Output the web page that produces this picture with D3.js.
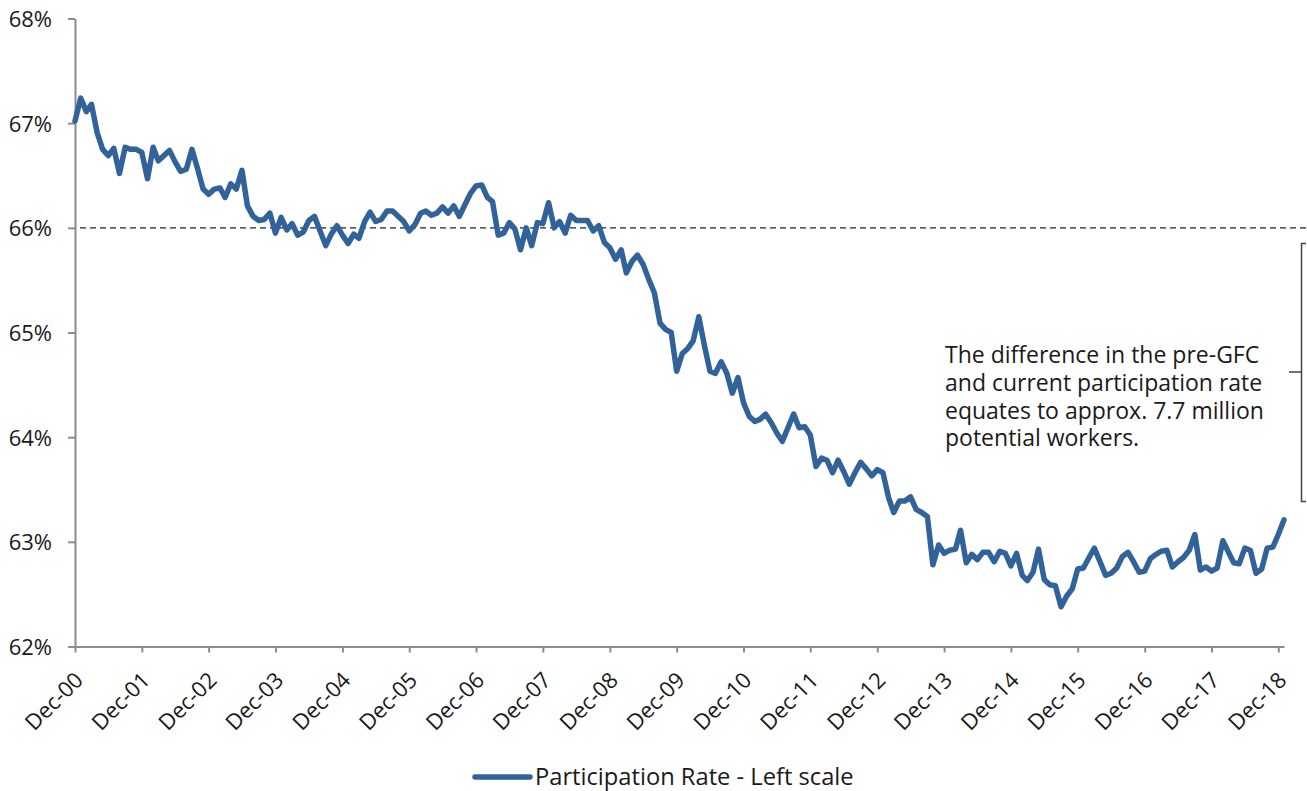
<!DOCTYPE html>
<html>
<head>
<meta charset="utf-8">
<script src="https://cdn.jsdelivr.net/npm/d3@7"></script>
<style>
  body { margin: 0; background: #fff; }
  svg { display: block; }
</style>
</head>
<body>
<script>
// monthly participation rate, Dec-00 .. Jan-19
var startMonth = new Date(2000, 11, 1);
var rates = [
  67.02, 67.24, 67.11, 67.18, 66.91, 66.75, 66.69, 66.76, 66.52, 66.77, 66.75, 66.75,
  66.72, 66.47, 66.77, 66.64, 66.69, 66.74, 66.63, 66.54, 66.56, 66.75, 66.57, 66.37,
  66.32, 66.37, 66.38, 66.29, 66.42, 66.37, 66.55, 66.21, 66.11, 66.07, 66.08, 66.14,
  65.95, 66.10, 65.98, 66.04, 65.93, 65.96, 66.07, 66.11, 65.97, 65.83, 65.94, 66.02,
  65.93, 65.85, 65.94, 65.90, 66.06, 66.15, 66.06, 66.08, 66.16, 66.16, 66.11, 66.06,
  65.97, 66.03, 66.14, 66.16, 66.12, 66.14, 66.20, 66.14, 66.21, 66.11, 66.22, 66.33,
  66.40, 66.41, 66.29, 66.25, 65.93, 65.95, 66.05, 65.99, 65.79, 66.00, 65.83, 66.05,
  66.04, 66.24, 66.00, 66.06, 65.95, 66.12, 66.07, 66.07, 66.07, 65.97, 66.02, 65.86,
  65.81, 65.70, 65.79, 65.57, 65.68, 65.74, 65.65, 65.51, 65.38, 65.09, 65.03, 65.00,
  64.63, 64.80, 64.85, 64.92, 65.15, 64.88, 64.63, 64.61, 64.72, 64.61, 64.42, 64.57,
  64.33, 64.20, 64.15, 64.17, 64.22, 64.14, 64.04, 63.96, 64.09, 64.22, 64.09, 64.10,
  64.02, 63.72, 63.80, 63.78, 63.66, 63.78, 63.67, 63.55, 63.66, 63.76, 63.70, 63.63,
  63.69, 63.66, 63.42, 63.28, 63.39, 63.39, 63.43, 63.31, 63.28, 63.24, 62.78, 62.97,
  62.89, 62.92, 62.93, 63.11, 62.80, 62.88, 62.83, 62.90, 62.90, 62.81, 62.91, 62.89,
  62.77, 62.89, 62.68, 62.63, 62.71, 62.93, 62.64, 62.59, 62.58, 62.38, 62.48, 62.55,
  62.74, 62.75, 62.85, 62.94, 62.81, 62.68, 62.70, 62.75, 62.86, 62.90, 62.81, 62.71,
  62.72, 62.84, 62.88, 62.91, 62.92, 62.76, 62.81, 62.85, 62.92, 63.07, 62.73, 62.76,
  62.72, 62.75, 63.01, 62.91, 62.80, 62.79, 62.94, 62.92, 62.70, 62.74, 62.94, 62.95,
  63.07, 63.21
];
var yTicks = [62, 63, 64, 65, 66, 67, 68];
var xTickYears = [2000, 2001, 2002, 2003, 2004, 2005, 2006, 2007, 2008, 2009,
                  2010, 2011, 2012, 2013, 2014, 2015, 2016, 2017, 2018];
var preGfcLevel = 66;
var seriesName = 'Participation Rate - Left scale';
var noteLines = [
  'The difference in the pre-GFC',
  'and current participation rate',
  'equates to approx. 7.7 million',
  'potential workers.'
];

var dataset = rates.map(function (v, i) {
  return { date: d3.timeMonth.offset(startMonth, i), value: v };
});

var svgWidth = 1307, svgHeight = 791;
var lineColor = '#31639a';
var axisColor = '#8c8c8c';
var tickFont = '"Open Sans", sans-serif';

var svg = d3.select('body')
  .append('svg')
  .attr('width', svgWidth)
  .attr('height', svgHeight);

// scales
var xScale = d3.scaleTime()
  .domain([dataset[0].date, dataset[dataset.length - 1].date])
  .range([75, 1284]);

var yScale = d3.scaleLinear()
  .domain([62, 68])
  .range([646.5, 18.5]);

// axes
var xAxis = d3.axisBottom(xScale)
  .tickValues(xTickYears.map(function (y) { return new Date(y, 11, 1); }))
  .tickFormat(d3.timeFormat('%b-%y'))
  .tickSize(6)
  .tickSizeOuter(0);

var yAxis = d3.axisLeft(yScale)
  .tickValues(yTicks)
  .tickFormat(function (d) { return d + '%'; })
  .tickSize(7)
  .tickSizeOuter(0);

var gy = svg.append('g')
  .attr('class', 'y axis')
  .attr('transform', 'translate(75, 0)')
  .call(yAxis);

gy.select('.domain').attr('stroke', axisColor).attr('stroke-width', 2);
gy.selectAll('.tick line').attr('stroke', axisColor).attr('stroke-width', 2);
gy.selectAll('.tick text')
  .attr('x', -23)
  .attr('dy', '0.36em')
  .attr('fill', '#1a1a1a')
  .style('font-family', tickFont)
  .style('font-size', '22px');

var gx = svg.append('g')
  .attr('class', 'x axis')
  .attr('transform', 'translate(0, 646.5)')
  .call(xAxis);

gx.select('.domain').attr('stroke', axisColor).attr('stroke-width', 2);
gx.selectAll('.tick line').attr('stroke', axisColor).attr('stroke-width', 2);
gx.selectAll('.tick text')
  .attr('x', 0)
  .attr('y', 0)
  .attr('dy', 0)
  .attr('text-anchor', 'end')
  .attr('transform', 'translate(9, 35) rotate(-45)')
  .attr('fill', '#1a1a1a')
  .style('font-family', tickFont)
  .style('font-size', '22px');

// pre-GFC reference line
svg.append('line')
  .attr('x1', 80)
  .attr('x2', svgWidth)
  .attr('y1', yScale(preGfcLevel))
  .attr('y2', yScale(preGfcLevel))
  .attr('stroke', '#222')
  .attr('stroke-width', 1.2)
  .attr('stroke-dasharray', '6,4');

// series line
var line = d3.line()
  .x(function (d) { return xScale(d.date); })
  .y(function (d) { return yScale(d.value); });

svg.append('path')
  .datum(dataset)
  .attr('d', line)
  .attr('fill', 'none')
  .attr('stroke', lineColor)
  .attr('stroke-width', 5.5)
  .attr('stroke-linejoin', 'round')
  .attr('stroke-linecap', 'round');

// annotation text
svg.append('text')
  .attr('x', 945)
  .attr('y', 363)
  .attr('fill', '#1a1a1a')
  .style('font-family', tickFont)
  .style('font-size', '23px')
  .selectAll('tspan')
  .data(noteLines)
  .enter()
  .append('tspan')
  .attr('x', 945)
  .attr('dy', function (d, i) { return i === 0 ? 0 : 27.8; })
  .text(function (d) { return d; });

// bracket on the right
svg.append('path')
  .attr('d', 'M1306,243.5 H1301.5 V501.5 H1306 M1301.5,372 H1289')
  .attr('fill', 'none')
  .attr('stroke', '#444')
  .attr('stroke-width', 1.5);

// legend
var legend = svg.append('g').attr('transform', 'translate(475, 777)');
legend.append('line')
  .attr('x1', 0).attr('x2', 55)
  .attr('y1', 0).attr('y2', 0)
  .attr('stroke', lineColor)
  .attr('stroke-width', 5.5)
  .attr('stroke-linecap', 'round');
legend.append('text')
  .attr('x', 60)
  .attr('y', 8)
  .attr('fill', '#1a1a1a')
  .style('font-family', tickFont)
  .style('font-size', '23.7px')
  .text(seriesName);
</script>
</body>
</html>
